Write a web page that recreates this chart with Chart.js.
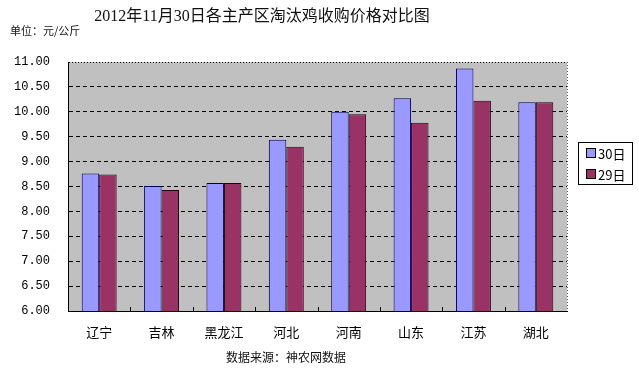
<!DOCTYPE html>
<html>
<head>
<meta charset="utf-8">
<script src="https://cdn.jsdelivr.net/npm/chart.js@4/dist/chart.umd.min.js"></script>
<style>
  html, body { margin: 0; padding: 0; background: #fff; }
  #wrap { width: 639px; height: 369px; }
</style>
</head>
<body>
<div id="wrap"><canvas id="priceChart" width="639" height="369"></canvas></div>
<script>
// data (元/公斤)
const categories = ['辽宁', '吉林', '黑龙江', '河北', '河南', '山东', '江苏', '湖北'];
const seriesNames = ['30日', '29日'];
const day30 = [8.76, 8.51, 8.57, 9.44, 10.00, 10.27, 10.87, 10.19];
const day29 = [8.74, 8.43, 8.57, 9.30, 9.95, 9.78, 10.22, 10.19];
const yMin = 6, yMax = 11, yStep = 0.5;

const titleText = '2012年11月30日各主产区淘汰鸡收购价格对比图';
const unitText = '单位：元/公斤';
const sourceText = '数据来源：神农网数据';

const fillColors = ['#9999FF', '#993366'];
const edgeColors = ['#000050', '#200010'];
const cjk = '"Noto Sans CJK SC", sans-serif';

// plot background, dotted top/right frame, inner category ticks
const frame = {
  id: 'frame',
  beforeDraw(chart) {
    const { ctx, chartArea: a } = chart;
    ctx.save();
    ctx.fillStyle = '#C0C0C0';
    ctx.fillRect(a.left, a.top, a.right - a.left, a.bottom - a.top);
    ctx.restore();
  },
  afterDraw(chart) {
    const { ctx, chartArea: a } = chart;
    const x = chart.scales.x;
    ctx.save();
    ctx.strokeStyle = '#555';
    ctx.lineWidth = 1;
    ctx.setLineDash([1, 2]);
    ctx.beginPath();
    ctx.moveTo(a.right + 0.5, a.top);
    ctx.lineTo(a.right + 0.5, a.bottom);
    ctx.stroke();
    ctx.setLineDash([]);
    ctx.strokeStyle = '#000';
    const half = (x.getPixelForValue(1) - x.getPixelForValue(0)) / 2;
    for (let i = 1; i < categories.length; i++) {
      const px = Math.round(x.getPixelForValue(i) - half) + 0.5;
      ctx.beginPath();
      ctx.moveTo(px, a.bottom);
      ctx.lineTo(px, a.bottom - 4);
      ctx.stroke();
    }

    // texts
    ctx.fillStyle = '#111';
    ctx.textBaseline = 'middle';
    ctx.textAlign = 'center';
    ctx.font = '16px "Liberation Serif", ' + cjk;
    ctx.fillText(titleText, 262, 17);
    ctx.textAlign = 'left';
    ctx.font = '11px ' + cjk;
    ctx.fillText(unitText, 10, 31);
    ctx.textAlign = 'center';
    ctx.font = '12px ' + cjk;
    ctx.fillText(sourceText, 286, 357);

    // legend
    ctx.fillStyle = '#fff';
    ctx.fillRect(578.5, 142.5, 54, 42);
    ctx.strokeStyle = '#000';
    ctx.strokeRect(578.5, 142.5, 54, 42);
    ctx.font = '13px ' + cjk;
    ctx.textAlign = 'left';
    seriesNames.forEach((name, i) => {
      const y = 153 + i * 21;
      ctx.fillStyle = fillColors[i];
      ctx.fillRect(586.5, y - 4.5, 9, 9);
      ctx.strokeStyle = '#000';
      ctx.strokeRect(586.5, y - 4.5, 9, 9);
      ctx.fillStyle = '#000';
      ctx.fillText(name, 598, y + 1);
    });
    ctx.restore();
  }
};

new Chart(document.getElementById('priceChart'), {
  type: 'bar',
  data: {
    labels: categories,
    datasets: [day30, day29].map((vals, i) => ({
      label: seriesNames[i],
      data: vals,
      backgroundColor: fillColors[i],
      borderColor: edgeColors[i],
      borderWidth: 1,
      borderSkipped: false,
      barPercentage: 1,
      categoryPercentage: 0.56
    }))
  },
  options: {
    responsive: false,
    animation: false,
    layout: { padding: { left: 10, top: 62, right: 72, bottom: 0 } },
    plugins: {
      legend: { display: false },
      tooltip: { enabled: false },
      title: { display: false }
    },
    scales: {
      x: {
        grid: { display: false },
        border: { display: true, color: '#000', width: 1 },
        ticks: { color: '#000', padding: 5, font: { family: cjk, size: 13 } },
        afterFit(scale) { scale.height = 58; }
      },
      y: {
        min: yMin,
        max: yMax,
        grid: { color: '#000', lineWidth: 1, drawTicks: false },
        border: {
          display: true,
          color: '#000',
          width: 1,
          dash: (c) => (c.tick && c.tick.value === yMax ? [1, 2] : [4, 3])
        },
        ticks: {
          stepSize: yStep,
          padding: 18,
          color: '#000',
          font: { family: '"Liberation Mono", monospace', size: 12 },
          callback: (v) => Number(v).toFixed(2)
        },
        afterFit(scale) { scale.width = 58; }
      }
    }
  },
  plugins: [frame]
});
</script>
</body>
</html>
